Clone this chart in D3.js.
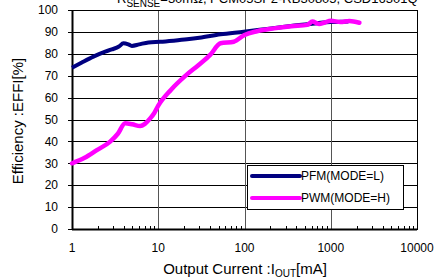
<!DOCTYPE html>
<html>
<head>
<meta charset="utf-8">
<script src="https://cdn.jsdelivr.net/npm/d3@7"></script>
<style>
  body { margin: 0; background: #fff; }
  text { font-family: "Liberation Sans", Arial, sans-serif; }
</style>
</head>
<body>
<div id="chart"></div>
<script>
// data: [current mA, efficiency %]
var pfmCurrent = [1, 1.3, 1.77, 2.31, 2.89, 3.5, 3.95, 4.5, 4.94, 6, 7.7, 10.5, 15, 21.6, 30, 52.7, 98, 150, 250, 400, 700, 1000, 1300, 1600];
var pfmEff     = [73.6, 76, 78.7, 80.7, 82, 83.3, 84.8, 84.3, 83.6, 84.3, 85.2, 85.5, 86, 86.6, 87.3, 88.9, 90.1, 91, 92, 93, 94, 94.5, 94.6, 94.8];
var pwmCurrent = [1, 1.4, 1.94, 2.77, 3.4, 4.13, 5, 6.17, 7, 8.07, 9, 10, 14, 20.6, 29.4, 40, 52.7, 75.1, 100, 140, 219, 350, 535, 612, 731, 850, 1000, 1300, 1640, 2150];
var pwmEff     = [30, 32.5, 36, 39.9, 43.5, 48.3, 47.8, 47, 48, 50.5, 53, 56.3, 63.5, 69.9, 74.9, 79.5, 84.8, 85.5, 88.6, 90.3, 91.6, 92.6, 93.2, 94.7, 93.6, 94.3, 95.1, 94.5, 95, 94.2];
var xTicks = [1, 10, 100, 1000, 10000];
var yTicks = [0, 10, 20, 30, 40, 50, 60, 70, 80, 90, 100];
var seriesNames = ["PFM(MODE=L)", "PWM(MODE=H)"];
var seriesColors = ["#000080", "#ff00ff"];

var margin = {top: 10, right: 22, bottom: 48, left: 72},
    width = 439 - margin.left - margin.right,
    height = 277 - margin.top - margin.bottom;

var svg = d3.select('#chart')
  .append('svg')
    .attr('width', 439)
    .attr('height', 277);

// title, mostly cut off at the top (as in the original)
var title = svg.append("text")
  .attr("x", 117)
  .attr("y", 3)
  .style("font-size", "13px");
title.append("tspan").text("R");
title.append("tspan").attr("dy", 4).style("font-size", "10px").text("SENSE");
title.append("tspan").attr("dy", -4).text("=30mΩ, PCM05SP2-RB30805, CSD16301Q");

var g = svg.append('g')
  .attr('transform', 'translate(' + margin.left + ',' + margin.top + ')');

var x = d3.scaleLog()
  .domain([1, 10000])
  .range([0, width]);

var y = d3.scaleLinear()
  .domain([0, 100])
  .range([height, 0]);

// horizontal grid (with small outside ticks)
g.selectAll(".hgrid")
  .data(yTicks)
  .enter()
  .append("line")
    .attr("x1", -4)
    .attr("x2", width)
    .attr("y1", function(d) { return Math.round(y(d)) + 0.5; })
    .attr("y2", function(d) { return Math.round(y(d)) + 0.5; })
    .attr("stroke", "#000")
    .attr("stroke-width", 1);

// vertical grid at decades
g.selectAll(".vgrid")
  .data(xTicks.slice(1, 4))
  .enter()
  .append("line")
    .attr("x1", function(d) { return Math.round(x(d)) + 0.5; })
    .attr("x2", function(d) { return Math.round(x(d)) + 0.5; })
    .attr("y1", 0)
    .attr("y2", height)
    .attr("stroke", "#555")
    .attr("stroke-width", 1);

// minor ticks on x axis
var minor = [];
[1, 10, 100, 1000].forEach(function(dec) {
  for (var k = 2; k <= 9; k++) minor.push(dec * k);
});
g.selectAll(".minor")
  .data(minor)
  .enter()
  .append("line")
    .attr("x1", function(d) { return Math.round(x(d)) + 0.5; })
    .attr("x2", function(d) { return Math.round(x(d)) + 0.5; })
    .attr("y1", height)
    .attr("y2", height - 3)
    .attr("stroke", "#000");

// plot frame
g.append("rect")
  .attr("x", 0.5)
  .attr("y", 0.5)
  .attr("width", Math.round(width))
  .attr("height", Math.round(height))
  .attr("fill", "none")
  .attr("stroke", "#000");
g.append("line")
  .attr("x1", 0).attr("x2", width)
  .attr("y1", height + 0.5).attr("y2", height + 0.5)
  .attr("stroke", "#000").attr("stroke-width", 2);
g.append("line")
  .attr("x1", 0.5).attr("x2", 0.5)
  .attr("y1", 0).attr("y2", height)
  .attr("stroke", "#000").attr("stroke-width", 2);

// tick labels
g.selectAll(".ylab")
  .data(yTicks)
  .enter()
  .append("text")
    .attr("x", -14)
    .attr("y", function(d) { return y(d); })
    .attr("dy", "0.35em")
    .style("text-anchor", "end")
    .style("font-size", "12px")
    .text(function(d) { return d; });

g.selectAll(".xlab")
  .data(xTicks)
  .enter()
  .append("text")
    .attr("x", function(d) { return x(d); })
    .attr("y", height + 23)
    .style("text-anchor", "middle")
    .style("font-size", "12px")
    .text(function(d) { return d; });

// axis titles
var xt = svg.append("text")
  .attr("x", 245)
  .attr("y", 274)
  .style("text-anchor", "middle")
  .style("font-size", "15px");
xt.append("tspan").text("Output Current :I");
xt.append("tspan").attr("dy", 3).style("font-size", "10px").text("OUT");
xt.append("tspan").attr("dy", -3).text("[mA]");

svg.append("text")
  .attr("transform", "translate(23,121) rotate(-90)")
  .style("text-anchor", "middle")
  .style("font-size", "15px")
  .text("Efficiency :EFFI[%]");

// lines
var line = d3.line()
  .x(function(d) { return x(d[0]); })
  .y(function(d) { return y(d[1]); })
  .curve(d3.curveMonotoneX);

var pfm = d3.zip(pfmCurrent, pfmEff);
var pwm = d3.zip(pwmCurrent, pwmEff);

g.append("path")
  .datum(pfm)
  .attr("d", line)
  .attr("fill", "none")
  .attr("stroke", seriesColors[0])
  .attr("stroke-width", 4)
  .attr("stroke-linejoin", "round");

g.append("path")
  .datum(pwm)
  .attr("d", line)
  .attr("fill", "none")
  .attr("stroke", seriesColors[1])
  .attr("stroke-width", 4.5)
  .attr("stroke-linejoin", "round")
  .attr("stroke-linecap", "round");

// legend
var lg = svg.append("g").attr("transform", "translate(247,165)");
lg.append("rect")
  .attr("x", 0.5).attr("y", 0.5)
  .attr("width", 156).attr("height", 44)
  .attr("fill", "#fff")
  .attr("stroke", "#000");
seriesNames.forEach(function(name, i) {
  var yy = 11 + i * 22;
  lg.append("line")
    .attr("x1", 5).attr("x2", 53)
    .attr("y1", yy).attr("y2", yy)
    .attr("stroke", seriesColors[i])
    .attr("stroke-width", 4)
    .attr("stroke-linecap", "round");
  lg.append("text")
    .attr("x", 54)
    .attr("y", yy)
    .attr("dy", "0.35em")
    .style("font-size", "12px")
    .text(name);
});
</script>
</body>
</html>
